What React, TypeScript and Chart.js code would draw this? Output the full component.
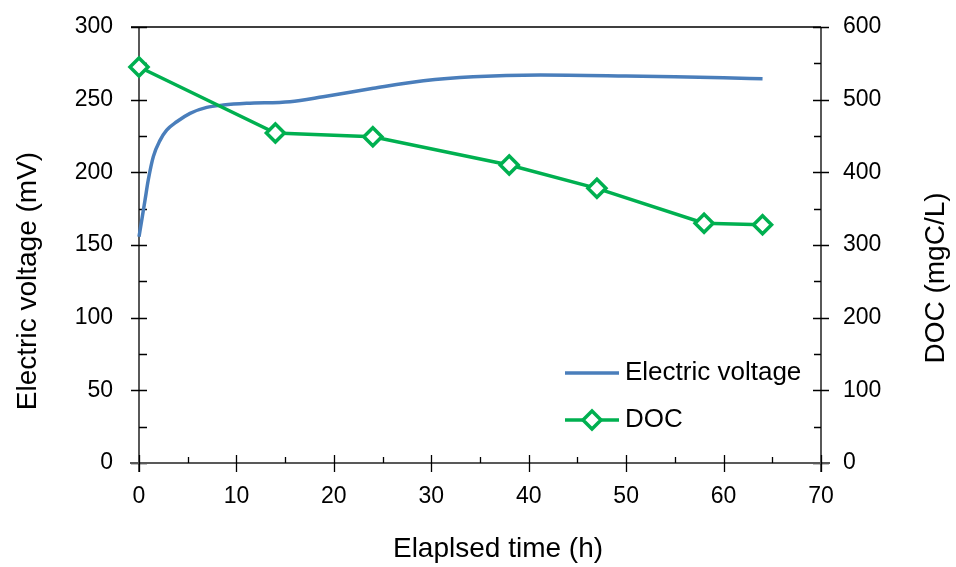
import React, { useEffect, useRef } from "react";
import { Chart, registerables } from "chart.js";

Chart.register(...registerables);

// Electric voltage (continuous record), hours vs mV
const voltageTime = [0, 0.28, 0.62, 0.95, 1.47, 2.16, 2.84, 3.87, 5.24, 6.95, 8.66, 11.05, 15.5, 18.9, 24.05, 29.2, 34.3, 41.2, 50, 55, 60, 64];
const voltageValues = [155.7, 167, 181, 194.7, 210.8, 222, 229, 234.8, 240.6, 244.7, 246.3, 247.5, 248.6, 252, 257.8, 263, 265.8, 267, 266.3, 265.7, 265, 264.4];

// DOC samples, hours vs mgC/L
const docTime = [0, 14, 24, 38, 47, 58, 64];
const docValues = [545, 454, 449, 410, 378, 330, 328];

const xMajorTicks = [0, 10, 20, 30, 40, 50, 60, 70];
const yLeftMajorTicks = [0, 50, 100, 150, 200, 250, 300];
const yRightMajorTicks = [0, 100, 200, 300, 400, 500, 600];

const xTitle = "Elaplsed time (h)";
const yLeftTitle = "Electric voltage (mV)";
const yRightTitle = "DOC (mgC/L)";
const voltageLabel = "Electric voltage";
const docLabel = "DOC";

const FONT = "'Liberation Sans', Arial, sans-serif";
const BLUE = "#4a7ebb";
const GREEN = "#00b050";

const framePlugin = {
  id: "frame",
  beforeDatasetsDraw(chart: any) {
    const { ctx, chartArea, scales } = chart;
    const { left, right, top, bottom } = chartArea;
    const x = scales.x;
    const y = scales.y;
    const y2 = scales.y2;
    ctx.save();
    ctx.lineWidth = 1.3;
    ctx.strokeStyle = "#000";
    ctx.beginPath();
    ctx.moveTo(left, bottom + 9);
    ctx.lineTo(left, top);
    ctx.moveTo(left - 8, top);
    ctx.lineTo(right, top);
    ctx.moveTo(right, top);
    ctx.lineTo(right, bottom + 9);
    ctx.stroke();
    ctx.beginPath();
    for (const v of yLeftMajorTicks) {
      const py = Math.round(y.getPixelForValue(v)) + 0.5;
      ctx.moveTo(left - 8, py);
      ctx.lineTo(left + 8, py);
      if (v < 300) {
        const pm = Math.round(y.getPixelForValue(v + 25)) + 0.5;
        ctx.moveTo(left, pm);
        ctx.lineTo(left + 8, pm);
      }
    }
    for (const v of yRightMajorTicks) {
      const py = Math.round(y2.getPixelForValue(v)) + 0.5;
      ctx.moveTo(right - 8, py);
      ctx.lineTo(right + 8, py);
      if (v < 600) {
        const pm = Math.round(y2.getPixelForValue(v + 50)) + 0.5;
        ctx.moveTo(right - 7, pm);
        ctx.lineTo(right, pm);
      }
    }
    ctx.stroke();
    ctx.strokeStyle = "#595959";
    ctx.lineWidth = 2;
    ctx.beginPath();
    ctx.moveTo(left - 9, bottom);
    ctx.lineTo(right + 9, bottom);
    ctx.stroke();
    ctx.strokeStyle = "#000";
    ctx.lineWidth = 1.3;
    ctx.beginPath();
    for (const v of xMajorTicks) {
      const px = Math.round(x.getPixelForValue(v)) + 0.5;
      ctx.moveTo(px, bottom - 8);
      ctx.lineTo(px, bottom + 9);
      if (v < 70) {
        const pm = Math.round(x.getPixelForValue(v + 5)) + 0.5;
        ctx.moveTo(pm, bottom - 6);
        ctx.lineTo(pm, bottom);
      }
    }
    ctx.stroke();
    ctx.restore();
  },
  afterDraw(chart: any) {
    const { ctx } = chart;
    ctx.save();
    ctx.fillStyle = "#000";
    ctx.textBaseline = "middle";
    ctx.textAlign = "center";
    ctx.font = `28px ${FONT}`;
    ctx.fillText(xTitle, 498, 549);
    ctx.save();
    ctx.translate(28, 281);
    ctx.rotate(-Math.PI / 2);
    ctx.fillText(yLeftTitle, 0, 0);
    ctx.restore();
    ctx.save();
    ctx.translate(936, 278);
    ctx.rotate(-Math.PI / 2);
    ctx.fillText(yRightTitle, 0, 0);
    ctx.restore();

    ctx.lineCap = "butt";
    ctx.strokeStyle = BLUE;
    ctx.lineWidth = 3.5;
    ctx.beginPath();
    ctx.moveTo(565, 373);
    ctx.lineTo(619, 373);
    ctx.stroke();
    ctx.strokeStyle = GREEN;
    ctx.beginPath();
    ctx.moveTo(565, 420);
    ctx.lineTo(619, 420);
    ctx.stroke();
    const r = 9;
    ctx.beginPath();
    ctx.moveTo(592, 420 - r);
    ctx.lineTo(592 + r, 420);
    ctx.lineTo(592, 420 + r);
    ctx.lineTo(592 - r, 420);
    ctx.closePath();
    ctx.fillStyle = "#fff";
    ctx.fill();
    ctx.stroke();
    ctx.fillStyle = "#000";
    ctx.textAlign = "left";
    ctx.font = `26px ${FONT}`;
    ctx.fillText(voltageLabel, 625, 373);
    ctx.fillText(docLabel, 625, 420);
    ctx.restore();
  },
};

export default function App() {
  const ref = useRef<HTMLCanvasElement | null>(null);
  useEffect(() => {
    if (!ref.current) return;
    const chart = new Chart(ref.current, {
      type: "line",
      data: {
        datasets: [
          {
            label: voltageLabel,
            data: voltageTime.map((t, i) => ({ x: t, y: voltageValues[i] })),
            borderColor: BLUE,
            borderWidth: 3.5,
            pointRadius: 0,
            cubicInterpolationMode: "monotone",
            yAxisID: "y",
            order: 2,
            clip: false,
          },
          {
            label: docLabel,
            data: docTime.map((t, i) => ({ x: t, y: docValues[i] })),
            borderColor: GREEN,
            borderWidth: 3.5,
            pointStyle: "rectRot",
            pointRadius: 9,
            pointBorderWidth: 3.5,
            pointBackgroundColor: "#fff",
            pointBorderColor: GREEN,
            tension: 0,
            yAxisID: "y2",
            order: 1,
            clip: false,
          },
        ],
      },
      options: {
        animation: false,
        responsive: true,
        maintainAspectRatio: false,
        layout: { padding: { top: 27, left: 0, right: 0, bottom: 0 } },
        plugins: { legend: { display: false }, tooltip: { enabled: false } },
        scales: {
          x: {
            type: "linear",
            min: 0,
            max: 70,
            grid: { display: false, drawTicks: true, tickLength: 20 },
            border: { display: false },
            ticks: { stepSize: 10, padding: 0, color: "#000", font: { family: FONT, size: 23 } },
            afterFit: (s: any) => { s.height = 104; },
          },
          y: {
            position: "left",
            min: 0,
            max: 300,
            grid: { display: false, drawTicks: true, tickLength: 26 },
            border: { display: false },
            ticks: { stepSize: 50, padding: 0, color: "#000", font: { family: FONT, size: 23 } },
            afterFit: (s: any) => { s.width = 139; },
          },
          y2: {
            position: "right",
            min: 0,
            max: 600,
            grid: { display: false, drawTicks: true, tickLength: 22 },
            border: { display: false },
            ticks: { stepSize: 100, padding: 0, color: "#000", font: { family: FONT, size: 23 } },
            afterFit: (s: any) => { s.width = 135; },
          },
        },
      },
      plugins: [framePlugin],
    } as any);
    return () => chart.destroy();
  }, []);
  return (
    <div style={{ position: "absolute", left: 0, top: 0, width: 956, height: 567, background: "#fff" }}>
      <canvas ref={ref} />
    </div>
  );
}
